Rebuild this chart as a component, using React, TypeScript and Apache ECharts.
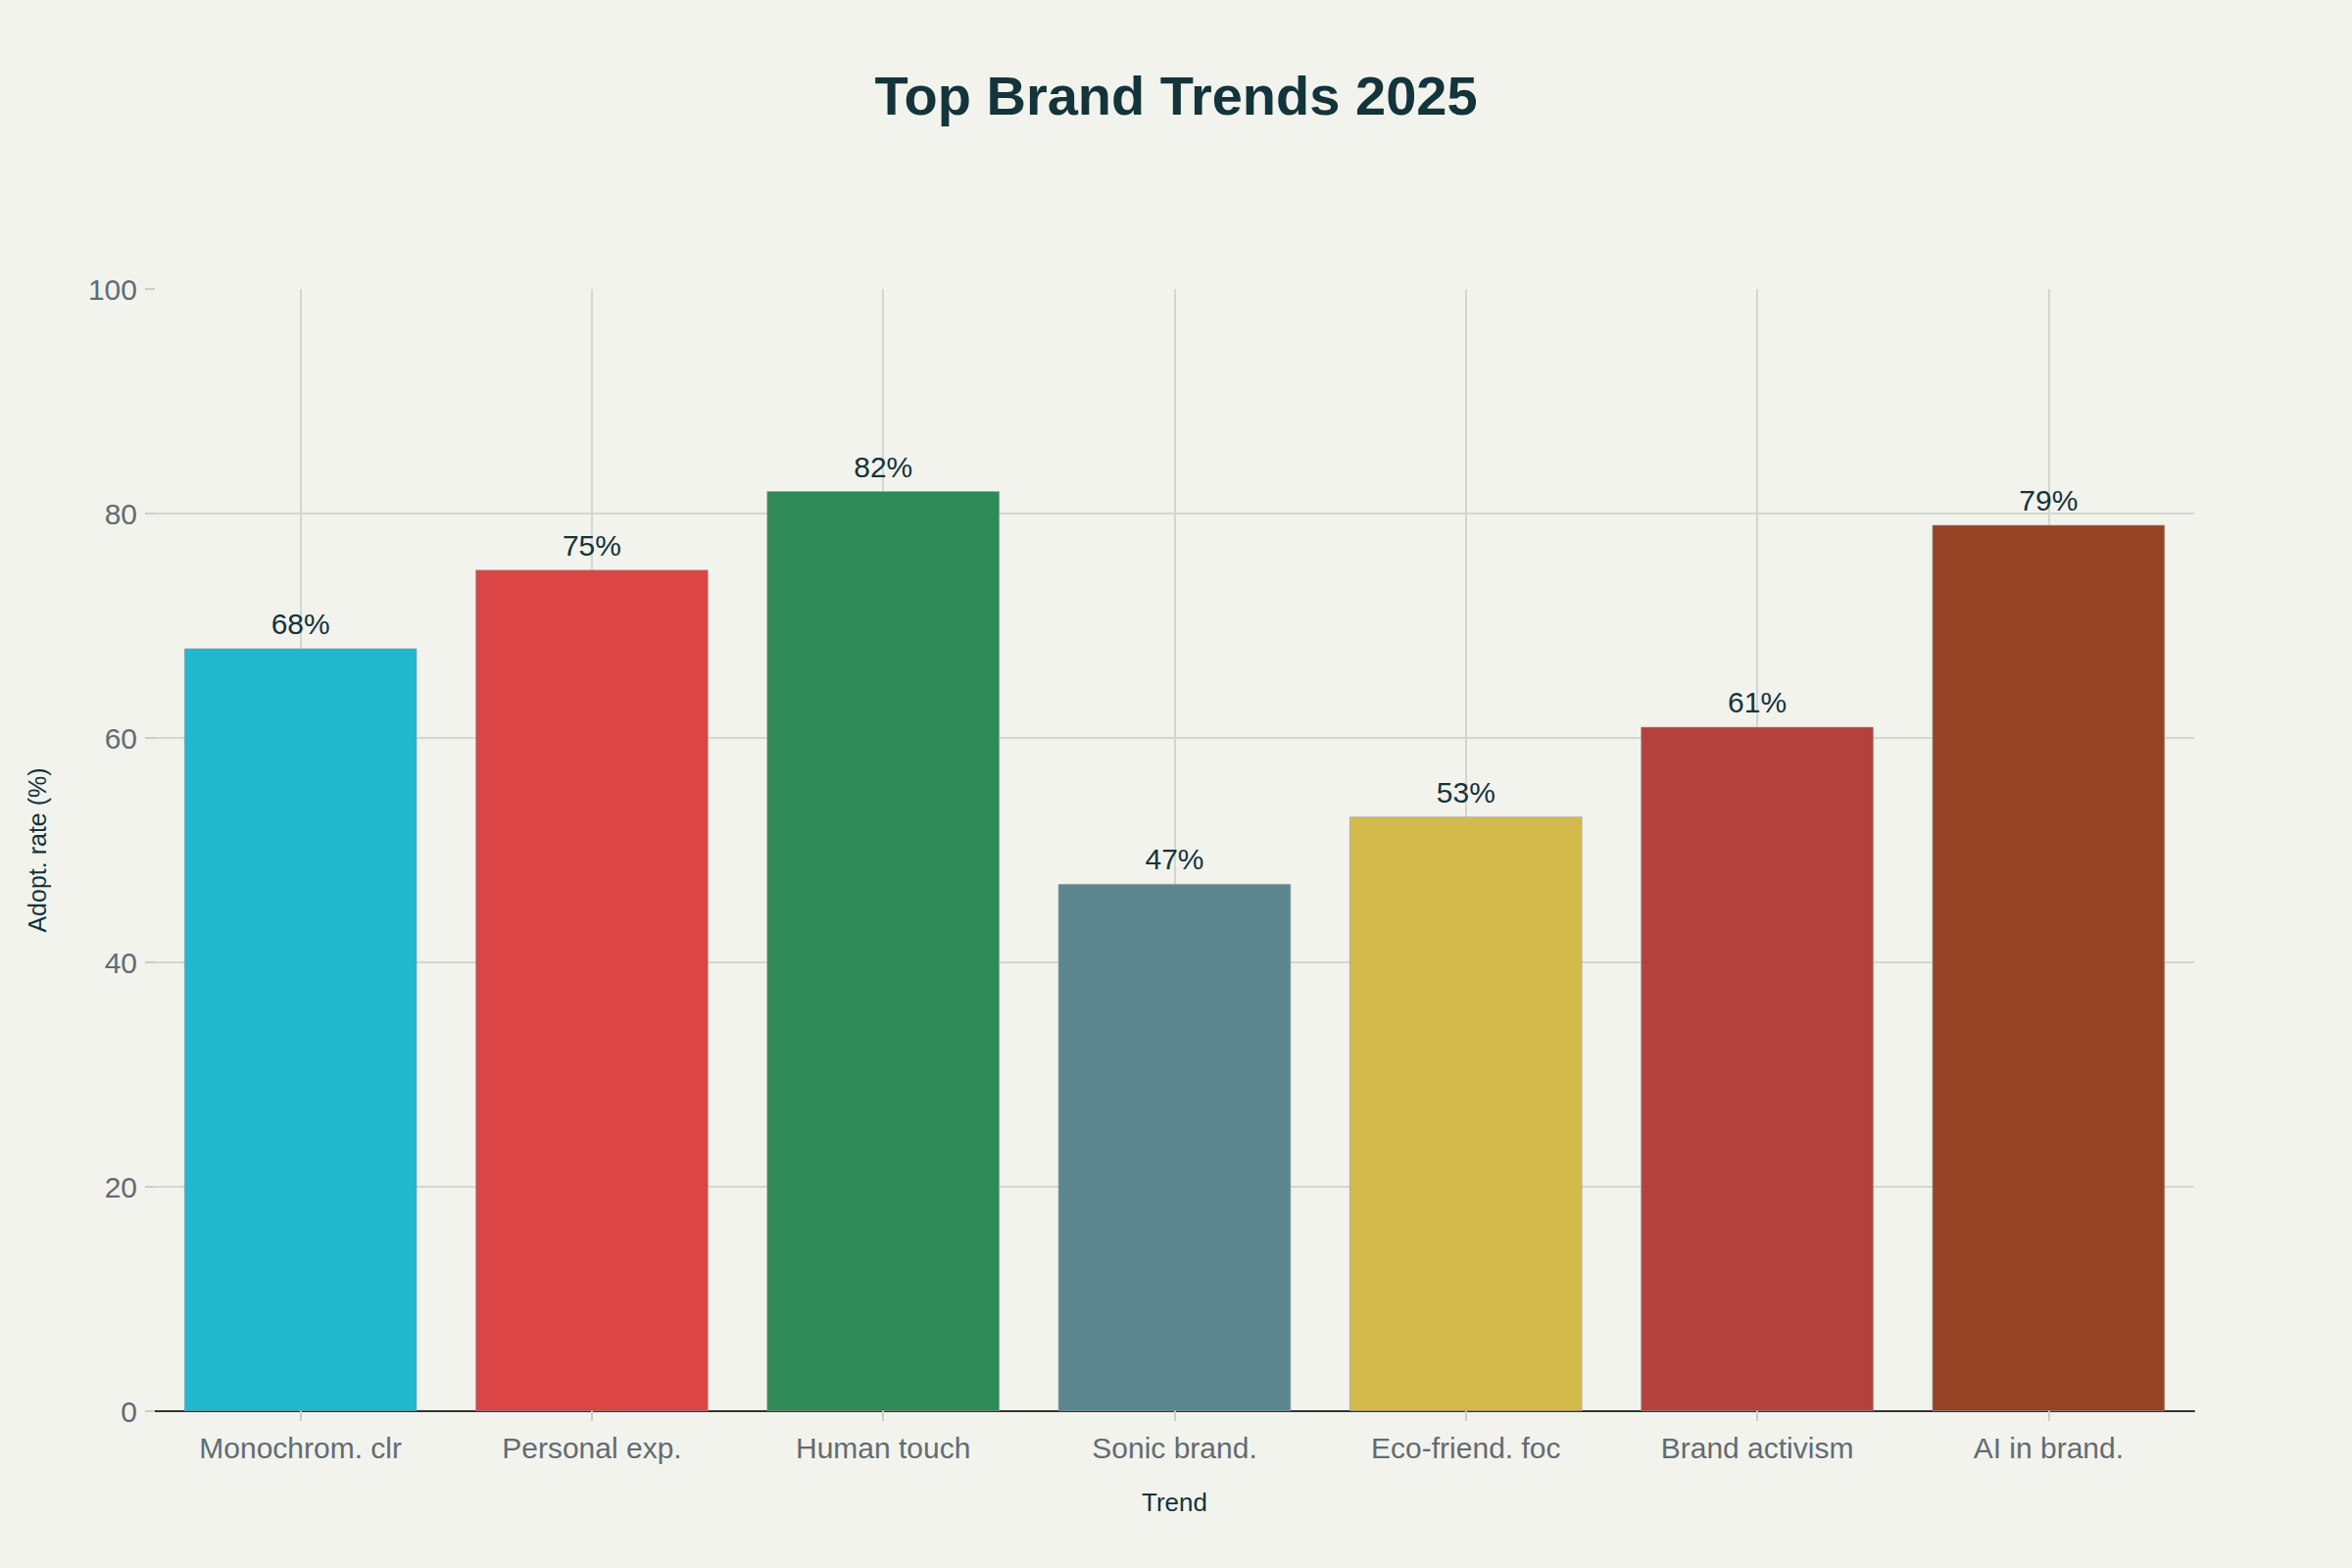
import React, { useEffect, useRef } from 'react'
import * as echarts from 'echarts'

const categories = [
  'Monochrom. clr',
  'Personal exp.',
  'Human touch',
  'Sonic brand.',
  'Eco-friend. foc',
  'Brand activism',
  'AI in brand.',
]
const adoptionRates = [68, 75, 82, 47, 53, 61, 79]
const barColors = ['#1FB8CD', '#DB4545', '#2E8B57', '#5D878F', '#D2BA4C', '#B4413C', '#964325']

const FONT = '"Liberation Sans", Arial, sans-serif'
const GRID = '#D6D6D0'

const App: React.FC = () => {
  const chartRef = useRef<HTMLDivElement>(null)

  useEffect(() => {
    if (!chartRef.current) return
    const chart = echarts.init(chartRef.current, undefined, { renderer: 'svg' })
    chart.setOption({
      animation: false,
      backgroundColor: '#F3F3EE',
      textStyle: { fontFamily: FONT },
      title: {
        text: 'Top Brand Trends 2025',
        left: 'center',
        top: 64,
        textStyle: { fontSize: 56, fontWeight: 'bold', color: '#13343B', fontFamily: FONT },
      },
      grid: { left: 158, right: 161, top: 295, bottom: 160, containLabel: false },
      xAxis: {
        type: 'category',
        data: categories,
        name: 'Trend',
        nameLocation: 'middle',
        nameGap: 80,
        nameTextStyle: { fontSize: 26, color: '#13343B' },
        axisLine: { lineStyle: { color: '#333', width: 2 } },
        axisTick: { show: true, alignWithLabel: true, length: 10, lineStyle: { color: '#ccc', width: 2 } },
        axisLabel: { fontSize: 30, color: '#626C71', margin: 22 },
        splitLine: { show: false },
      },
      yAxis: {
        type: 'value',
        min: 0,
        max: 100,
        interval: 20,
        name: 'Adopt. rate (%)',
        nameLocation: 'middle',
        nameGap: 108,
        nameTextStyle: { fontSize: 25, color: '#13343B' },
        axisLine: { show: false },
        axisTick: { show: true, length: 10, lineStyle: { color: '#ccc', width: 2 } },
        axisLabel: { fontSize: 30, color: '#626C71', margin: 18 },
        splitLine: {
          show: true,
          lineStyle: { color: [GRID, GRID, GRID, GRID, GRID, 'transparent'], width: 2 },
        },
      },
      series: [
        {
          // vertical grid lines at category centres, drawn behind the bars
          type: 'line',
          data: [],
          markLine: {
            silent: true,
            symbol: 'none',
            z: 1,
            label: { show: false },
            lineStyle: { color: GRID, width: 2, type: 'solid' },
            data: categories.map((c) => ({ xAxis: c })),
          },
        },
        {
          type: 'bar',
          z: 3,
          barCategoryGap: '20%',
          data: adoptionRates.map((v, i) => ({
            value: v,
            itemStyle: { color: barColors[i] },
          })),
          itemStyle: { borderColor: 'rgba(160,160,160,0.6)', borderWidth: 1 },
          label: {
            show: true,
            position: 'top',
            distance: 10,
            formatter: '{c}%',
            fontSize: 30,
            color: '#13343B',
            fontFamily: FONT,
          },
        },
      ],
    })
    return () => {
      chart.dispose()
    }
  }, [])

  return (
    <div
      ref={chartRef}
      style={{ position: 'fixed', left: 0, top: 0, width: 2400, height: 1600 }}
    />
  )
}

export default App
